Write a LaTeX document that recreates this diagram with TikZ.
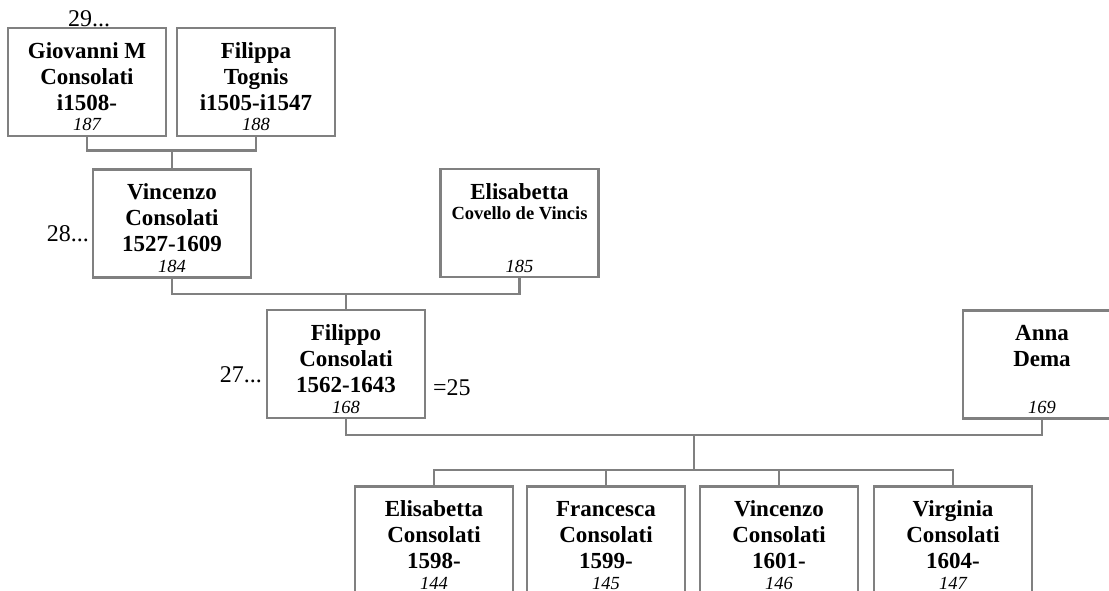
\documentclass[tikz,border=0pt]{standalone}
\usepackage{fontspec}
\setmainfont{Liberation Serif}
\usetikzlibrary{calc}
\definecolor{linegray}{RGB}{128,128,128}
\tikzset{
  pbox/.style={draw=linegray, line width=2.6pt, fill=white, minimum width=158pt, minimum height=108pt, inner sep=0pt, outer sep=0pt},
  conn/.style={draw=linegray, line width=2.6pt},
  nm/.style={anchor=north, inner sep=0pt, align=center, font=\fontsize{23}{26}\selectfont\bfseries},
  subnm/.style={anchor=base, inner sep=0pt, font=\fontsize{18.5}{20}\selectfont\bfseries},
  num/.style={anchor=base, inner sep=0pt, font=\fontsize{18.5}{20}\selectfont\itshape},
  gen/.style={inner sep=0pt, font=\fontsize{24}{26}\selectfont},
}
\begin{document}
\begin{tikzpicture}[x=1pt, y=-1pt]
\useasboundingbox (0,0) rectangle (1109,591);
\clip (0,0) rectangle (1109,591);
% boxes
\node[pbox] (gio) at (87,82) {};
\node[pbox] (fia) at (256,82) {};
\node[pbox] (vin) at (172,223.5) {};
\node[pbox] (eli) at (519.5,223) {};
\node[pbox] (flp) at (346,364) {};
\node[pbox] (ann) at (1042,364.5) {};
\node[pbox] (c1) at (434,540.5) {};
\node[pbox] (c2) at (606,540.5) {};
\node[pbox] (c3) at (779,540.5) {};
\node[pbox] (c4) at (953,540.5) {};
% names
\node[nm] (gioN) at ($(gio.north)+(0,11.8)$) {\strut Giovanni M\\Consolati\\i1508-};
\node[nm] (fiaN) at ($(fia.north)+(0,11.8)$) {\strut Filippa\\Tognis\\i1505-i1547};
\node[nm] (vinN) at ($(vin.north)+(0,11.8)$) {\strut Vincenzo\\Consolati\\1527-1609};
\node[nm] (eliN) at ($(eli.north)+(0,11.8)$) {\strut Elisabetta};
\node[subnm] (eliS) at ($(eli.north)+(0,50)$) {Covello de Vincis};
\node[nm] (flpN) at ($(flp.north)+(0,11.8)$) {\strut Filippo\\Consolati\\1562-1643};
\node[nm] (annN) at ($(ann.north)+(0,11.8)$) {\strut Anna\\Dema};
\node[nm] (c1N) at ($(c1.north)+(0,11.8)$) {\strut Elisabetta\\Consolati\\1598-};
\node[nm] (c2N) at ($(c2.north)+(0,11.8)$) {\strut Francesca\\Consolati\\1599-};
\node[nm] (c3N) at ($(c3.north)+(0,11.8)$) {\strut Vincenzo\\Consolati\\1601-};
\node[nm] (c4N) at ($(c4.north)+(0,11.8)$) {\strut Virginia\\Consolati\\1604-};
% numbers
\node[num] (gioI) at ($(gio.south)+(0,-5)$) {187};
\node[num] (fiaI) at ($(fia.south)+(0,-5)$) {188};
\node[num] (vinI) at ($(vin.south)+(0,-5)$) {184};
\node[num] (eliI) at ($(eli.south)+(0,-5)$) {185};
\node[num] (flpI) at ($(flp.south)+(0,-5)$) {168};
\node[num] (annI) at ($(ann.south)+(0,-5)$) {169};
\node[num] (c1I) at ($(c1.south)+(0,-5)$) {144};
\node[num] (c2I) at ($(c2.south)+(0,-5)$) {145};
\node[num] (c3I) at ($(c3.south)+(0,-5)$) {146};
\node[num] (c4I) at ($(c4.south)+(0,-5)$) {147};
% side labels
\node[gen, anchor=base] (l29) at ($(gio.north)+(2,-1)$) {29...};
\node[gen, anchor=base east] (l28) at ($(vin.north west)+(-4,72)$) {28...};
\node[gen, anchor=base east] (l27) at ($(flp.north west)+(-5,72)$) {27...};
\node[gen, anchor=base west] (l25) at ($(flp.north east)+(8,85)$) {=25};
% connectors
\coordinate (m1) at ($(vin.north)+(0,-19)$);
\draw[conn] (gio.south) |- (m1) -| (fia.south);
\draw[conn] (m1) -- (vin.north);
\coordinate (m2) at ($(flp.north)+(0,-16)$);
\draw[conn] (vin.south) |- (m2) -| (eli.south);
\draw[conn] (m2) -- (flp.north);
\coordinate (m3) at ($(flp.south)+(348,17)$);
\draw[conn] (flp.south) |- (m3) -| (ann.south);
\coordinate (m4) at ($(m3)+(0,35)$);
\draw[conn] (m3) -- (m4);
\draw[conn] (c1.north) |- (m4) -| (c4.north);
\draw[conn] (c2.north) -- (c2.north |- m4);
\draw[conn] (c3.north) -- (c3.north |- m4);
\end{tikzpicture}
\end{document}
